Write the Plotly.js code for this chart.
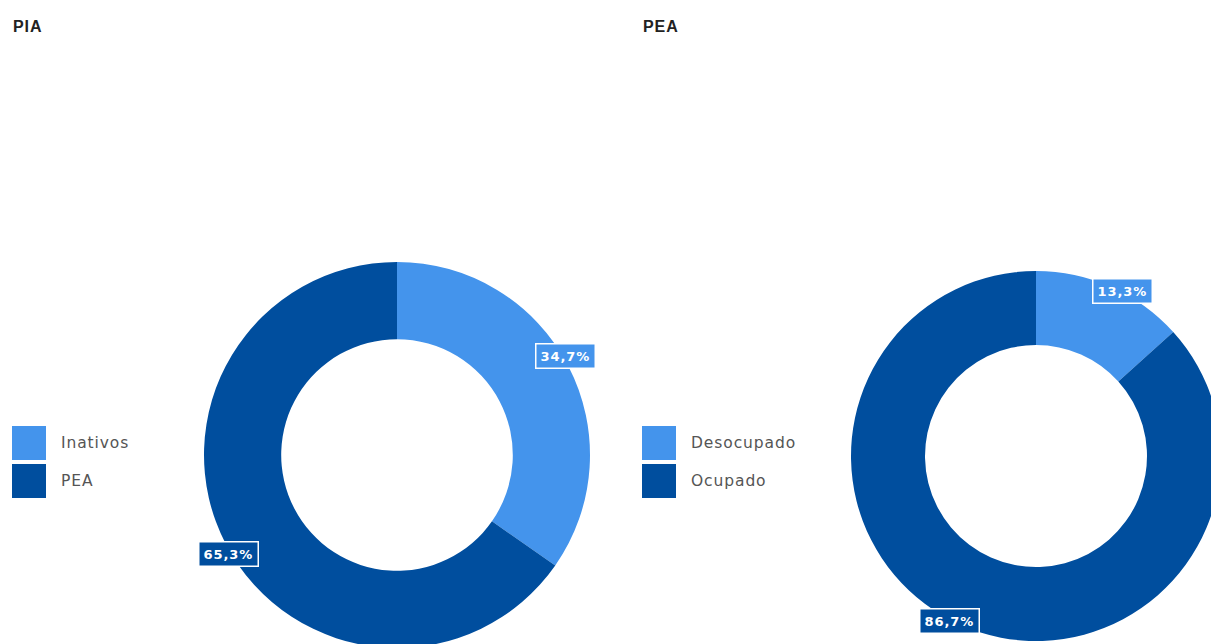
<!DOCTYPE html>
<html>
<head>
<meta charset="utf-8">
<script src="https://cdn.plot.ly/plotly-3.0.1.min.js"></script>
<style>
html,body{margin:0;padding:0;overflow:hidden;background:#fff;width:1211px;height:644px;}
#chart{width:1260px;height:660px;}
.annotation-text{letter-spacing:0.9px;}
</style>
</head>
<body>
<div id="chart"></div>
<script>
// Data
const piaLabels = ["Inativos", "PEA"];
const piaValues = [34.7, 65.3];
const peaLabels = ["Desocupado", "Ocupado"];
const peaValues = [13.3, 86.7];
const chartTitles = ["PIA", "PEA"];
const sliceColors = ["#4494EC", "#004E9E"];

const W = 1260, H = 660;
const FONT = "DejaVu Sans, Open Sans, sans-serif";

// pie geometry (pixels) and label angle nudge (degrees)
const pies = [
  {labels: piaLabels, values: piaValues, cx: 397, cy: 455, r: 193, legendX: 12, titleX: 11, labelRot: -2.8, labelR: 195},
  {labels: peaLabels, values: peaValues, cx: 1036, cy: 456, r: 185, legendX: 642, titleX: 641, labelRot: 3.6, labelR: 186}
];

const traces = [];
const annotations = [];
const shapes = [];

pies.forEach((p, i) => {
  traces.push({
    type: "pie",
    labels: p.labels,
    values: p.values,
    hole: 0.6,
    sort: false,
    direction: "clockwise",
    rotation: 0,
    textinfo: "none",
    hoverinfo: "label+percent",
    marker: {colors: sliceColors, line: {width: 0}},
    showlegend: false,
    domain: {
      x: [(p.cx - p.r) / W, (p.cx + p.r) / W],
      y: [(H - (p.cy + p.r)) / H, (H - (p.cy - p.r)) / H]
    }
  });

  // title
  annotations.push({
    xref: "paper", yref: "paper",
    x: p.titleX / W, y: (H - 27) / H,
    xanchor: "left", yanchor: "middle",
    text: "<b>" + chartTitles[i] + "</b>",
    showarrow: false,
    font: {family: "Liberation Sans Narrow, Liberation Sans, sans-serif", size: 16, color: "#222"}
  });

  // value labels
  const total = p.values.reduce((a, b) => a + b, 0);
  let cum = 0;
  p.values.forEach((v, j) => {
    const mid = (cum + v / 2) / total * 2 * Math.PI + p.labelRot * Math.PI / 180;
    cum += v;
    const x = p.cx + p.labelR * Math.sin(mid);
    const y = p.cy - p.labelR * Math.cos(mid);
    annotations.push({
      xref: "paper", yref: "paper",
      x: x / W, y: (H - y) / H,
      xanchor: "center", yanchor: "middle",
      text: "<b>" + v.toFixed(1).replace(".", ",") + "%</b>",
      showarrow: false,
      bgcolor: sliceColors[j],
      bordercolor: "#ffffff",
      borderwidth: 1.5,
      borderpad: 4,
      font: {family: FONT, size: 13, color: "#ffffff"}
    });
  });

  // legend
  p.labels.forEach((lab, j) => {
    const top = 426 + j * 38;
    shapes.push({
      type: "rect", xref: "paper", yref: "paper",
      x0: p.legendX / W, x1: (p.legendX + 34) / W,
      y0: (H - top - 34) / H, y1: (H - top) / H,
      fillcolor: sliceColors[j], line: {width: 0}
    });
    annotations.push({
      xref: "paper", yref: "paper",
      x: (p.legendX + 47) / W, y: (H - top - 17) / H,
      xanchor: "left", yanchor: "middle",
      text: lab, showarrow: false,
      font: {family: FONT, size: 15.5, color: "#555555"}
    });
  });
});

const layout = {
  width: W, height: H,
  margin: {l: 0, r: 0, t: 0, b: 0},
  paper_bgcolor: "#ffffff",
  showlegend: false,
  annotations: annotations,
  shapes: shapes,
  font: {family: FONT}
};

Plotly.newPlot("chart", traces, layout, {displayModeBar: false, staticPlot: true});
</script>
</body>
</html>
